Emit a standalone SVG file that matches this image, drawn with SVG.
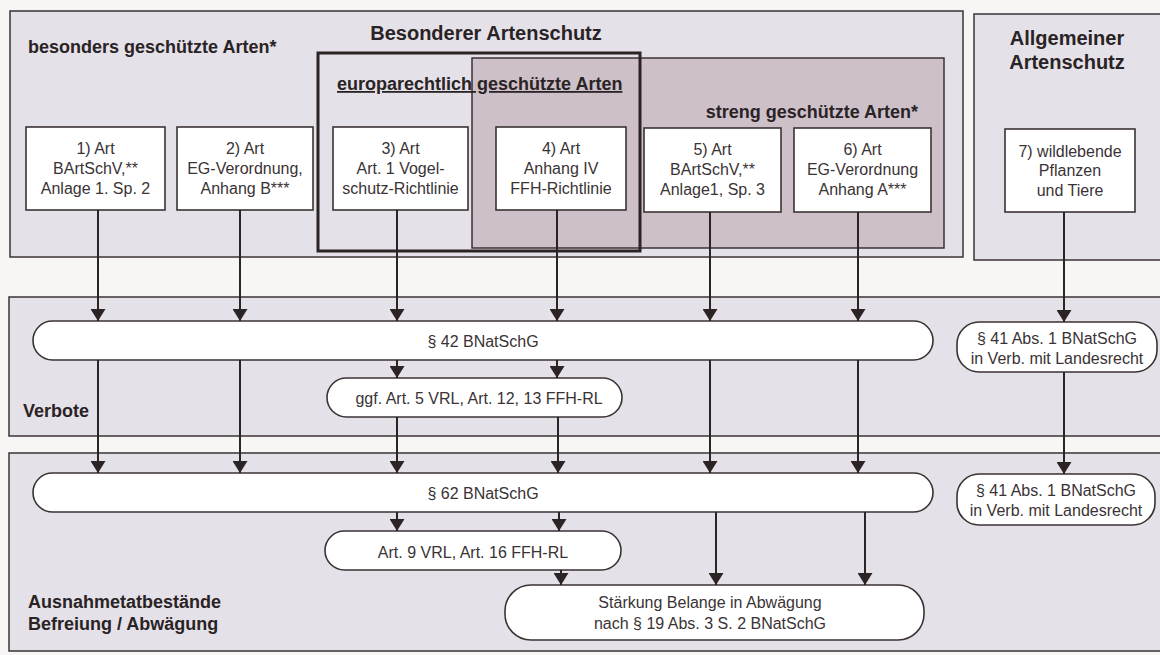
<svg xmlns="http://www.w3.org/2000/svg" width="1160" height="655" viewBox="0 0 1160 655">
<defs>
<marker id="arr" markerUnits="userSpaceOnUse" markerWidth="12" markerHeight="15" refX="12" refY="7.5" orient="auto">
<path d="M0,0 L12,7.5 L0,15 Z" fill="#2b2324"/>
</marker>
</defs>
<style>
.panel{fill:#e5e1e8;stroke:#3b3234;stroke-width:1.5}
.streng{fill:#cdc0c9;stroke:#3b3234;stroke-width:1.5}
.euro{fill:none;stroke:#2b2324;stroke-width:3}
.box{fill:#ffffff;stroke:#3b3234;stroke-width:1.6}
.t{font-family:"Liberation Sans",Arial,sans-serif;font-size:16px;fill:#3a3335;text-anchor:middle}
.h{font-family:"Liberation Sans",Arial,sans-serif;font-weight:bold;font-size:18px;fill:#2a2325}
.c line{stroke:#2b2324;stroke-width:2;marker-end:url(#arr)}
.c line.n{marker-end:none}
</style>
<rect x="0" y="0" width="1160" height="655" fill="#f8f6f5"/>

<g id="panel-besonderer">
<rect class="panel" x="10" y="11" width="953" height="246"/>
<text class="h" x="28" y="53">besonders geschützte Arten*</text>
<text class="h" x="486" y="40" text-anchor="middle" style="font-size:20px">Besonderer Artenschutz</text>
</g>
<g id="panel-streng">
<rect class="streng" x="472" y="58" width="472" height="190"/>
<text class="h" x="918" y="118" text-anchor="end">streng geschützte Arten*</text>
</g>
<g id="panel-euro">
<rect class="euro" x="318" y="53" width="322" height="198"/>
<text class="h" x="337" y="90" text-decoration="underline">europarechtlich geschützte Arten</text>
</g>
<g id="panel-allgemeiner">
<rect class="panel" x="974" y="14" width="200" height="246"/>
<text class="h" x="1067" y="45" text-anchor="middle" style="font-size:20px">Allgemeiner</text>
<text class="h" x="1067" y="69" text-anchor="middle" style="font-size:20px">Artenschutz</text>
</g>
<g id="panel-verbote">
<rect class="panel" x="9" y="297" width="1165" height="139"/>
<text class="h" x="23" y="417">Verbote</text>
</g>
<g id="panel-ausnahme">
<rect class="panel" x="9" y="453" width="1165" height="198"/>
<text class="h" x="28" y="608">Ausnahmetatbestände</text>
<text class="h" x="28" y="630">Befreiung / Abwägung</text>
</g>

<g id="n1"><rect class="box" x="26" y="127" width="139" height="83"/>
<text class="t" x="95.5" y="154">1) Art</text><text class="t" x="95.5" y="174">BArtSchV,**</text><text class="t" x="95.5" y="194">Anlage 1. Sp. 2</text></g>
<g id="n2"><rect class="box" x="177" y="127" width="136" height="83"/>
<text class="t" x="245" y="154">2) Art</text><text class="t" x="245" y="174">EG-Verordnung,</text><text class="t" x="245" y="194">Anhang B***</text></g>
<g id="n3"><rect class="box" x="333" y="127" width="135" height="83"/>
<text class="t" x="400.5" y="154">3) Art</text><text class="t" x="400.5" y="174">Art. 1 Vogel-</text><text class="t" x="400.5" y="194">schutz-Richtlinie</text></g>
<g id="n4"><rect class="box" x="496" y="127" width="130" height="83"/>
<text class="t" x="561" y="154">4) Art</text><text class="t" x="561" y="174">Anhang IV</text><text class="t" x="561" y="194">FFH-Richtlinie</text></g>
<g id="n5"><rect class="box" x="644" y="128" width="137" height="84"/>
<text class="t" x="712.5" y="155">5) Art</text><text class="t" x="712.5" y="175">BArtSchV,**</text><text class="t" x="712.5" y="195">Anlage1, Sp. 3</text></g>
<g id="n6"><rect class="box" x="794" y="128" width="137" height="84"/>
<text class="t" x="862.5" y="155">6) Art</text><text class="t" x="862.5" y="175">EG-Verordnung</text><text class="t" x="862.5" y="195">Anhang A***</text></g>
<g id="n7"><rect class="box" x="1005" y="129" width="130" height="83"/>
<text class="t" x="1070" y="157">7) wildlebende</text><text class="t" x="1070" y="176">Pflanzen</text><text class="t" x="1070" y="196">und Tiere</text></g>

<g id="p42"><rect class="box" x="33" y="321" width="900" height="39" rx="19.5"/>
<text class="t" x="483" y="347">§ 42 BNatSchG</text></g>
<g id="pggf"><rect class="box" x="327" y="378" width="295" height="39" rx="19.5"/>
<text class="t" x="479" y="404">ggf. Art. 5 VRL, Art. 12, 13 FFH-RL</text></g>
<g id="p41a"><rect class="box" x="957" y="322" width="200" height="50" rx="22"/>
<text class="t" x="1057" y="344">§ 41 Abs. 1 BNatSchG</text><text class="t" x="1057" y="364">in Verb. mit Landesrecht</text></g>
<g id="p62"><rect class="box" x="33" y="473" width="900" height="39" rx="19.5"/>
<text class="t" x="483" y="499">§ 62 BNatSchG</text></g>
<g id="part9"><rect class="box" x="325" y="531" width="296" height="39" rx="19.5"/>
<text class="t" x="473" y="558">Art. 9 VRL, Art. 16 FFH-RL</text></g>
<g id="pstaerkung"><rect class="box" x="505" y="585" width="419" height="55" rx="26"/>
<text class="t" x="710" y="608">Stärkung Belange in Abwägung</text><text class="t" x="710" y="629">nach § 19 Abs. 3 S. 2 BNatSchG</text></g>
<g id="p41b"><rect class="box" x="957" y="474" width="198" height="51" rx="22"/>
<text class="t" x="1056" y="496">§ 41 Abs. 1 BNatSchG</text><text class="t" x="1056" y="516">in Verb. mit Landesrecht</text></g>

<g id="connectors" class="c">
<line x1="98" y1="210" x2="98" y2="321"/>
<line x1="240" y1="210" x2="240" y2="321"/>
<line x1="397" y1="210" x2="397" y2="321"/>
<line x1="557" y1="210" x2="557" y2="321"/>
<line x1="710" y1="212" x2="710" y2="321"/>
<line x1="858" y1="212" x2="858" y2="321"/>
<line x1="1064" y1="212" x2="1064" y2="322"/>
<line x1="98" y1="360" x2="98" y2="473"/>
<line x1="240" y1="360" x2="240" y2="473"/>
<line x1="397" y1="360" x2="397" y2="378"/>
<line x1="557" y1="360" x2="557" y2="378"/>
<line x1="710" y1="360" x2="710" y2="473"/>
<line x1="858" y1="360" x2="858" y2="473"/>
<line x1="1064" y1="372" x2="1064" y2="474"/>
<line x1="397" y1="417" x2="397" y2="473"/>
<line x1="558" y1="417" x2="558" y2="473"/>
<line x1="397" y1="512" x2="397" y2="531"/>
<line x1="559" y1="512" x2="559" y2="531"/>
<line x1="561" y1="570" x2="561" y2="585"/>
<line x1="716" y1="512" x2="716" y2="585"/>
<line x1="865" y1="512" x2="865" y2="585"/>
</g>
</svg>
